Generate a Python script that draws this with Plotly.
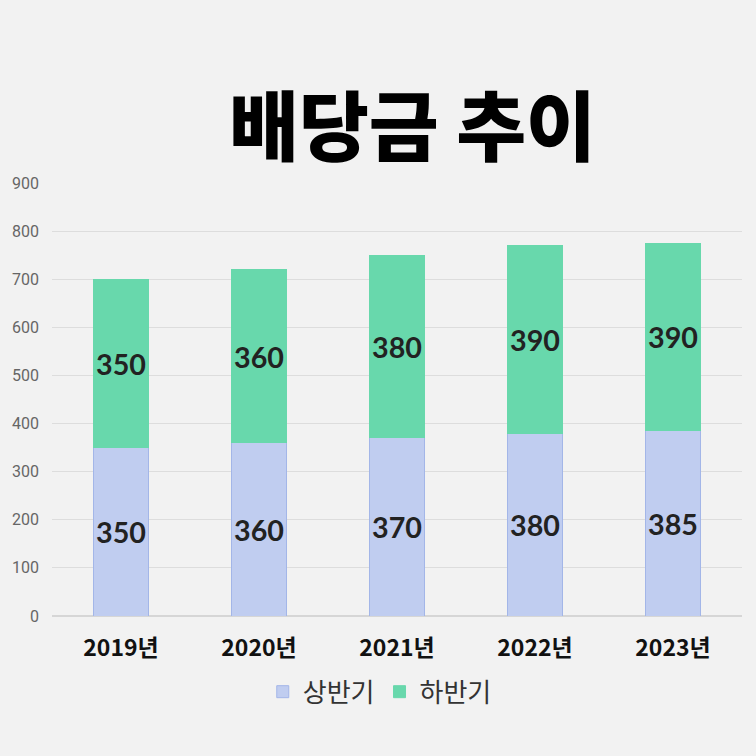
import plotly.graph_objects as go

categories = ["2019년", "2020년", "2021년", "2022년", "2023년"]
first_half = [350, 360, 370, 380, 385]
second_half = [350, 360, 380, 390, 390]
series_names = ["상반기", "하반기"]
title_text = "배당금 추이"

label_font = dict(family="Lato, Noto Sans", size=30, color="#222222", weight="bold")

fig = go.Figure()
fig.add_trace(go.Bar(
    x=categories, y=first_half, name=series_names[0],
    marker=dict(color="#c0cdf0", line=dict(color="#a3b6e8", width=1)),
    text=[str(v) for v in first_half], textposition="inside", insidetextanchor="middle",
    textfont=label_font, textangle=0,
))
fig.add_trace(go.Bar(
    x=categories, y=second_half, name=series_names[1],
    marker=dict(color="#68d8ac", line=dict(color="#68d8ac", width=1)),
    text=[str(v) for v in second_half], textposition="inside", insidetextanchor="middle",
    textfont=label_font, textangle=0,
))

fig.update_layout(
    barmode="stack",
    bargap=0.595,
    width=756, height=756,
    paper_bgcolor="#f2f2f2", plot_bgcolor="#f2f2f2",
    margin=dict(l=50, r=14, t=183, b=140),
    showlegend=True,
    legend=dict(orientation="h", x=0.475, xanchor="center", y=-0.175, yanchor="middle",
                font=dict(family="Noto Sans CJK KR", size=26, color="#333333"),
                traceorder="normal"),
    uniformtext=dict(mode="show", minsize=10),
    annotations=[dict(text=title_text, xref="paper", yref="paper", x=0.523, y=1.142,
                      xanchor="center", yanchor="middle", showarrow=False,
                      font=dict(family="Noto Sans CJK KR", size=76, color="#000000", weight=900))],
)
fig.update_yaxes(range=[0, 900], dtick=100, showgrid=True, gridcolor="#dddddd", gridwidth=1,
                 zeroline=True, zerolinecolor="#d6d6d6",
                 tickfont=dict(family="Roboto", size=16, color="#666666"),
                 ticklabelstandoff=12)
fig.update_xaxes(tickfont=dict(family="Noto Sans CJK KR", size=23, color="#111111", weight="bold"),
                 showline=False, ticklabelstandoff=16)

fig.write_html("out.html")
